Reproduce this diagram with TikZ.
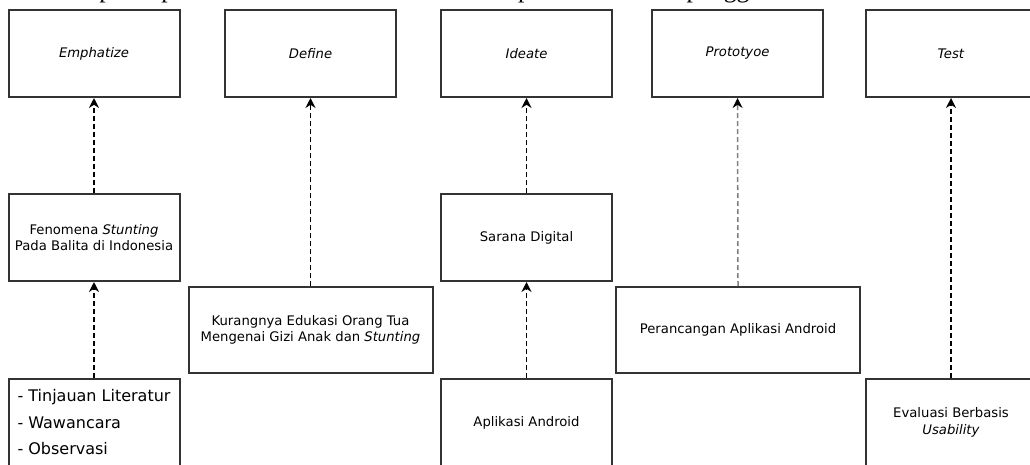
\documentclass[tikz,border=0pt]{standalone}
\usepackage{fontspec}
\usepackage{tikz}
\usetikzlibrary{arrows.meta}
\newfontfamily\diagfont{DejaVu Sans}
\newfontfamily\bodyfont{Liberation Serif}
\definecolor{boxline}{HTML}{333333}
\tikzset{phasebox/.style={rectangle,draw=boxline,line width=2pt,minimum height=87pt,inner sep=2pt,align=center,font=\diagfont\fontsize{13.2}{16.5}\selectfont},
  flow/.style={-{Stealth[length=10pt,width=10pt,color=black]},dashed,dash pattern=on 5pt off 3pt,line width=1.5pt}}
\newcommand{\phasenode}{\node[phasebox,minimum width=171pt]}
\newcommand{\widenode}{\node[phasebox,minimum width=244pt,minimum height=86pt]}

\begin{document}
\begin{tikzpicture}[x=1pt,y=-1pt]
          \useasboundingbox (0,0) rectangle (1030,464);
          \clip (0,0) rectangle (1030,464);
          \node[anchor=base west,inner sep=0pt,font=\bodyfont\fontsize{25.7}{30}\selectfont] (intro) at (-3,-2.5) {\textit{test}. Setiap tahapan tersebut dibuat berdasarkan kepada kebutuhan pengguna.}; %
          % tahapan
          \phasenode (emp) at (94,53.5) {\textit{Emphatize}}; %
          \phasenode (def) at (310.5,53.5) {\textit{Define}};
          \phasenode (ide) at (526.5,53.5) {\textit{Ideate}};
          \phasenode (pro) at (737.5,53.5) {\textit{Prototyoe}};
          \phasenode (tes) at (951,53.5) {\textit{Test}};
          % hasil
          \phasenode (fen) at (94,237.5) {Fenomena \textit{Stunting}\\Pada Balita di Indonesia}; %
          \phasenode (sar) at (526.5,237.5) {Sarana Digital};
          \widenode (kur) at (310.5,330) {Kurangnya Edukasi Orang Tua\\Mengenai Gizi Anak dan \textit{Stunting}}; %
          \widenode (per) at (738,330) {Perancangan Aplikasi Android};
          \phasenode[align=left,font=\diagfont\fontsize{16}{26.5}\selectfont] (tin) at (94,422.5) {- Tinjauan Literatur\\- Wawancara\\- Observasi}; %
          \phasenode (apl) at (526.5,422.5) {Aplikasi Android};
          \phasenode (eva) at (951,422.5) {Evaluasi Berbasis\\\textit{Usability}};
          \draw[flow] (fen) -- (emp);
          \draw[flow] (tin) -- (fen);
          \draw[flow] (kur.north) -- (def.south);
          \draw[flow] (sar) -- (ide);
          \draw[flow] (apl) -- (sar);
          \draw[flow,draw=black!50] (per.north) -- (pro.south);
          \draw[flow] (eva) -- (tes);
        \end{tikzpicture}
\end{document}
